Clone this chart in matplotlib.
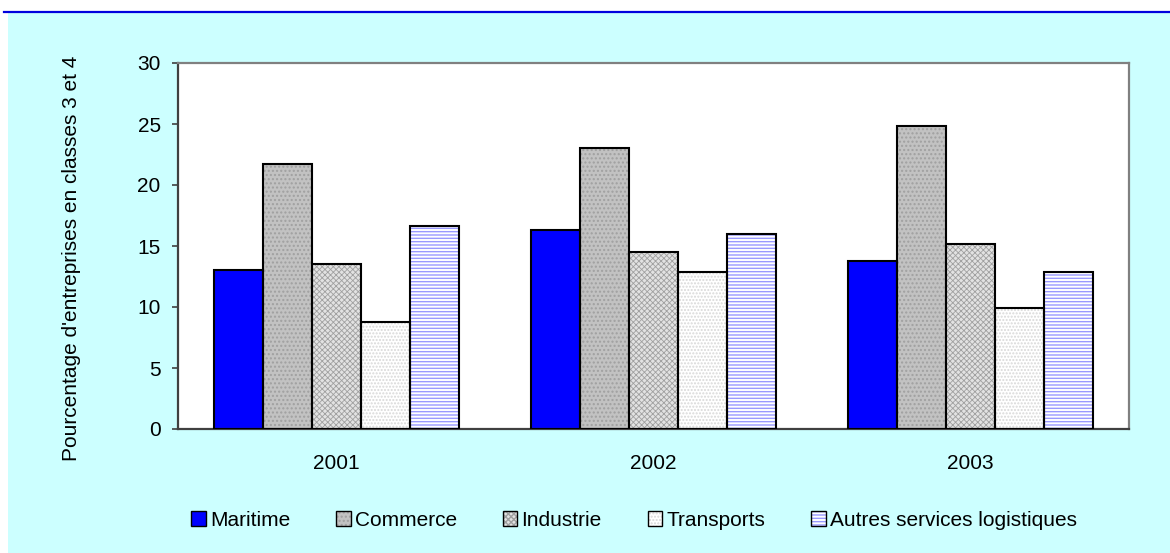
import numpy as np
import matplotlib.pyplot as plt
from matplotlib.patches import Rectangle, Patch
from matplotlib.lines import Line2D

plt.rcParams['font.family'] = ['Liberation Sans', 'DejaVu Sans']

# data
years = ['2001', '2002', '2003']
series = ['Maritime', 'Commerce', 'Industrie', 'Transports', 'Autres services logistiques']
maritime = [13.0, 16.3, 13.8]
commerce = [21.7, 23.0, 24.8]
industrie = [13.5, 14.5, 15.2]
transports = [8.8, 12.9, 9.9]
autres = [16.6, 16.0, 12.9]
values = [maritime, commerce, industrie, transports, autres]

# (face, hatch, hatch colour, hatch width)
styles = [
    ('#0000ff', None, '#0000ff', 1.0),
    ('#c2c2c2', '....', '#a0a0a0', 1.0),
    ('#e2e2e2', 'xxxxxx', '#a0a0a0', 0.6),
    ('#ffffff', '.....', '#d8d8d8', 1.0),
    ('#ffffff', '-----', '#9999ff', 1.0),
]

fig = plt.figure(figsize=(11.7, 5.53), dpi=100)
fig.patch.set_facecolor('white')

# cyan panel + blue rule on top
fig.patches.append(Rectangle((8 / 1170, 0), 1 - 8 / 1170, 1 - 13 / 553,
                             transform=fig.transFigure, facecolor='#ccffff',
                             edgecolor='none', zorder=-5))
fig.lines.append(Line2D([4 / 1170, 1], [1 - 12 / 553, 1 - 12 / 553],
                        transform=fig.transFigure, color='#0000dd', lw=1.6, zorder=-4))

ax = fig.add_axes([178 / 1170, 124 / 553, 951 / 1170, 366 / 553])
ax.set_zorder(2)
ax.set_facecolor('white')

x = np.arange(len(years))
w = 0.155
for i, (vals, (fc, hatch, hc, hw)) in enumerate(zip(values, styles)):
    pos = x + (i - 2) * w
    with plt.rc_context({'hatch.linewidth': hw}):
        ax.bar(pos, vals, w, color=fc, hatch=hatch, edgecolor=hc, linewidth=0, zorder=2)
    ax.bar(pos, vals, w, fill=False, edgecolor='black', linewidth=1.5, zorder=3)

ax.set_xlim(-0.5, 2.5)
ax.set_ylim(0, 30)
ax.set_yticks(range(0, 31, 5))
ax.set_xticks(x)
ax.set_xticklabels(years)
ax.tick_params(axis='x', length=0, pad=18, labelsize=15)
ax.tick_params(axis='y', length=4.5, width=1.2, color='#404040', pad=8, labelsize=15)

for s in ['left', 'bottom']:
    ax.spines[s].set_color('#404040')
    ax.spines[s].set_linewidth(1.6)
for s in ['top', 'right']:
    ax.spines[s].set_color('#808080')
    ax.spines[s].set_linewidth(1.6)

fig.text(72 / 1170, 1 - 258 / 553, "Pourcentage d'entreprises en classes 3 et 4",
         rotation=90, ha='center', va='center', fontsize=15)

# legend keys: hatched fill + black outline overlaid
handles = []
for fc, h, hc, hw in styles:
    with plt.rc_context({'hatch.linewidth': min(hw, 0.6)}):
        fill = Patch(facecolor=fc, hatch=h, edgecolor=hc, linewidth=0)
    outline = Patch(fill=False, edgecolor='black', linewidth=1.0)
    handles.append((fill, outline))
leg = fig.legend(handles, series, loc='center', bbox_to_anchor=(634 / 1170, 1 - 520 / 553),
                 ncol=5, frameon=False, fontsize=15, handlelength=0.7, handleheight=0.7,
                 handletextpad=0.2, columnspacing=2.2)

fig.savefig('out.png', dpi=100, facecolor=fig.get_facecolor())
